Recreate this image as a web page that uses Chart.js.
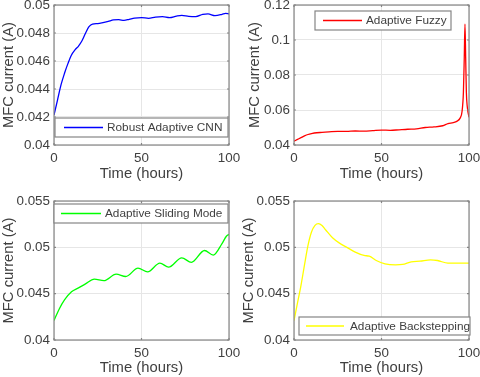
<!DOCTYPE html>
<html>
<head>
<script src="https://cdn.jsdelivr.net/npm/chart.js"></script>
<style>
  body { margin: 0; background: #fff; }
  #fig { position: relative; width: 480px; height: 377px; }
  .cell { position: absolute; }
</style>
</head>
<body>
<div id="fig">
  <div class="cell" style="left:0;top:0;width:240px;height:188px"><canvas id="c1"></canvas></div>
  <div class="cell" style="left:240px;top:0;width:240px;height:188px"><canvas id="c2"></canvas></div>
  <div class="cell" style="left:0;top:188px;width:240px;height:189px"><canvas id="c3"></canvas></div>
  <div class="cell" style="left:240px;top:188px;width:240px;height:189px"><canvas id="c4"></canvas></div>
</div>
<script>
// values
const xTicks = [0, 50, 100];

const hoursCnn = [0, 2, 4, 6, 8, 10, 12, 14, 16, 18, 20, 22, 25, 28, 31, 34, 37, 40, 43, 46, 50, 54, 58, 62, 66, 70, 73, 77, 81, 85, 88, 92, 96, 98, 100];
const currentCnn = [0.04214, 0.04321, 0.04429, 0.04512, 0.04583, 0.04643, 0.04679, 0.04707, 0.04745, 0.04798, 0.04845, 0.04864, 0.04867, 0.04874, 0.04883, 0.04893, 0.04895, 0.0489, 0.04898, 0.04907, 0.0491, 0.04905, 0.04914, 0.04917, 0.0491, 0.04921, 0.04926, 0.04919, 0.04917, 0.04933, 0.04936, 0.04924, 0.04933, 0.0494, 0.04936];
const yTicksCnn = [0.04, 0.042, 0.044, 0.046, 0.048, 0.05];

const hoursFuzzy = [0, 2, 4, 6, 8, 10, 13, 16, 20, 25, 30, 35, 40, 45, 50, 55, 60, 65, 70, 75, 80, 85, 88, 91, 93, 95, 96, 96.8, 97.3, 97.7, 98.1, 98.5, 99, 100];
const currentFuzzy = [0.0422, 0.0432, 0.0442, 0.0452, 0.046, 0.0465, 0.047, 0.0472, 0.0475, 0.0478, 0.0478, 0.048, 0.0479, 0.0482, 0.0485, 0.0484, 0.0487, 0.049, 0.0492, 0.05, 0.0503, 0.051, 0.0522, 0.0528, 0.0535, 0.0555, 0.059, 0.07, 0.09, 0.109, 0.09, 0.07, 0.062, 0.0558];
const yTicksFuzzy = [0.04, 0.06, 0.08, 0.1, 0.12];

const hoursSliding = [0, 3, 6, 10, 14, 18, 23, 28.5, 35.5, 41, 48, 53.5, 60.5, 65.5, 73, 78.5, 86, 91, 96, 98.5, 100];
const currentSliding = [0.0421, 0.04335, 0.04432, 0.0452, 0.04562, 0.04606, 0.04656, 0.0464, 0.0471, 0.04685, 0.04775, 0.04735, 0.0483, 0.04786, 0.04887, 0.04837, 0.04966, 0.04916, 0.0504, 0.0512, 0.0514];
const yTicksSliding = [0.04, 0.045, 0.05, 0.055];

const hoursBack = [0, 2, 4, 6, 8, 10, 12, 14, 16, 18, 22, 26, 30, 35, 40, 43, 47, 52, 58, 62, 67, 72, 78, 82, 88, 94, 100];
const currentBack = [0.0421, 0.044, 0.0459, 0.0481, 0.0502, 0.05165, 0.05237, 0.05255, 0.05235, 0.0519, 0.05103, 0.05045, 0.05002, 0.04948, 0.04912, 0.04905, 0.04858, 0.04822, 0.04811, 0.04815, 0.04844, 0.04851, 0.04865, 0.04858, 0.04829, 0.04829, 0.04829];
const yTicksBack = [0.04, 0.045, 0.05, 0.055];

const TEXT = '#404040';
const AXIS = '#858585';
const FONT = "'Liberation Sans', Arial, Helvetica, sans-serif";

// axes box + inward ticks + legend, drawn on top like matlab does
const matlabAxes = {
  id: 'matlabAxes',
  afterDraw(chart, args, o) {
    const ctx = chart.ctx;
    const a = chart.chartArea;
    const xs = chart.scales.x, ys = chart.scales.y;
    ctx.save();
    ctx.strokeStyle = AXIS;
    ctx.lineWidth = 1.2;
    ctx.strokeRect(a.left, a.top, a.right - a.left, a.bottom - a.top);
    ctx.beginPath();
    xs.ticks.forEach(t => {
      const px = xs.getPixelForValue(t.value);
      ctx.moveTo(px, a.bottom); ctx.lineTo(px, a.bottom - 2);
      ctx.moveTo(px, a.top); ctx.lineTo(px, a.top + 2);
    });
    ys.ticks.forEach(t => {
      const py = ys.getPixelForValue(t.value);
      ctx.moveTo(a.left, py); ctx.lineTo(a.left + 2, py);
      ctx.moveTo(a.right, py); ctx.lineTo(a.right - 2, py);
    });
    ctx.stroke();

    // legend
    const b = o.box;
    const ds = chart.data.datasets[0];
    ctx.fillStyle = '#fff';
    ctx.fillRect(b.x, b.y, b.w, b.h);
    ctx.strokeStyle = AXIS;
    ctx.lineWidth = 1.2;
    ctx.strokeRect(b.x, b.y, b.w, b.h);
    const my = b.y + b.h / 2;
    ctx.strokeStyle = ds.borderColor;
    ctx.lineWidth = 1.3;
    ctx.beginPath();
    ctx.moveTo(b.x + b.l0, my); ctx.lineTo(b.x + b.l1, my);
    ctx.stroke();
    ctx.fillStyle = TEXT;
    ctx.font = '11.8px ' + FONT;
    ctx.textBaseline = 'middle';
    ctx.fillText(ds.label, b.x + b.tx, my + 0.5);
    ctx.restore();
  }
};

function makeChart(id, s) {
  const pts = s.hours.map((h, i) => ({ x: h, y: s.values[i] }));
  return new Chart(document.getElementById(id), {
    type: 'line',
    data: {
      datasets: [{
        label: s.label,
        data: pts,
        borderColor: s.color,
        borderWidth: 1.3,
        pointRadius: 0,
        fill: false,
        cubicInterpolationMode: 'monotone'
      }]
    },
    options: {
      responsive: true,
      maintainAspectRatio: false,
      animation: false,
      events: [],
      layout: { padding: s.pad },
      plugins: {
        legend: { display: false },
        tooltip: { enabled: false },
        matlabAxes: { box: s.legend }
      },
      scales: {
        x: {
          type: 'linear',
          min: 0, max: 100,
          afterBuildTicks: sc => { sc.ticks = xTicks.map(v => ({ value: v })); },
          afterFit: sc => { sc.height = s.xh; sc.paddingLeft = 0; sc.paddingRight = 0; },
          grid: { color: '#e6e6e6', drawTicks: false },
          border: { display: false },
          ticks: { color: TEXT, font: { family: FONT, size: 13.4 }, padding: 5, maxRotation: 0 },
          title: { display: true, text: 'Time (hours)', color: TEXT, font: { family: FONT, size: 14.8 }, padding: { top: 0, bottom: s.tpb } }
        },
        y: {
          min: s.yTicks[0], max: s.yTicks[s.yTicks.length - 1],
          afterBuildTicks: sc => { sc.ticks = s.yTicks.map(v => ({ value: v })); },
          afterFit: sc => { sc.width = s.yw; sc.paddingTop = 0; sc.paddingBottom = 0; },
          grid: { color: '#e6e6e6', drawTicks: false },
          border: { display: false },
          ticks: { color: TEXT, font: { family: FONT, size: 13.4 }, padding: 4, callback: v => String(+v.toFixed(4)) },
          title: { display: true, text: 'MFC current (A)', color: TEXT, font: { family: FONT, size: 14.8 }, padding: 0 }
        }
      }
    },
    plugins: [matlabAxes]
  });
}

makeChart('c1', {
  hours: hoursCnn, values: currentCnn, yTicks: yTicksCnn,
  label: 'Robust Adaptive CNN', color: '#0000ff',
  pad: { left: 0, top: 5, right: 11, bottom: 0 }, yw: 54, xh: 43, tpb: 5,
  legend: { x: 55, y: 118, w: 173, h: 19, l0: 9, l1: 48, tx: 52 }
});
makeChart('c2', {
  hours: hoursFuzzy, values: currentFuzzy, yTicks: yTicksFuzzy,
  label: 'Adaptive Fuzzy', color: '#ff0000',
  pad: { left: 6, top: 5, right: 11, bottom: 0 }, yw: 48, xh: 43, tpb: 5,
  legend: { x: 75, y: 11, w: 136, h: 19, l0: 8, l1: 47, tx: 51 }
});
makeChart('c3', {
  hours: hoursSliding, values: currentSliding, yTicks: yTicksSliding,
  label: 'Adaptive Sliding Mode', color: '#00ff00',
  pad: { left: 0, top: 13, right: 11, bottom: 0 }, yw: 54, xh: 37, tpb: 0,
  legend: { x: 54, y: 16, w: 174, h: 19, l0: 7, l1: 47, tx: 51 }
});
makeChart('c4', {
  hours: hoursBack, values: currentBack, yTicks: yTicksBack,
  label: 'Adaptive Backstepping', color: '#ffff00',
  pad: { left: 0, top: 13, right: 11, bottom: 0 }, yw: 54, xh: 37, tpb: 0,
  legend: { x: 59, y: 129, w: 171, h: 18, l0: 7, l1: 45, tx: 51 }
});
</script>
</body>
</html>
